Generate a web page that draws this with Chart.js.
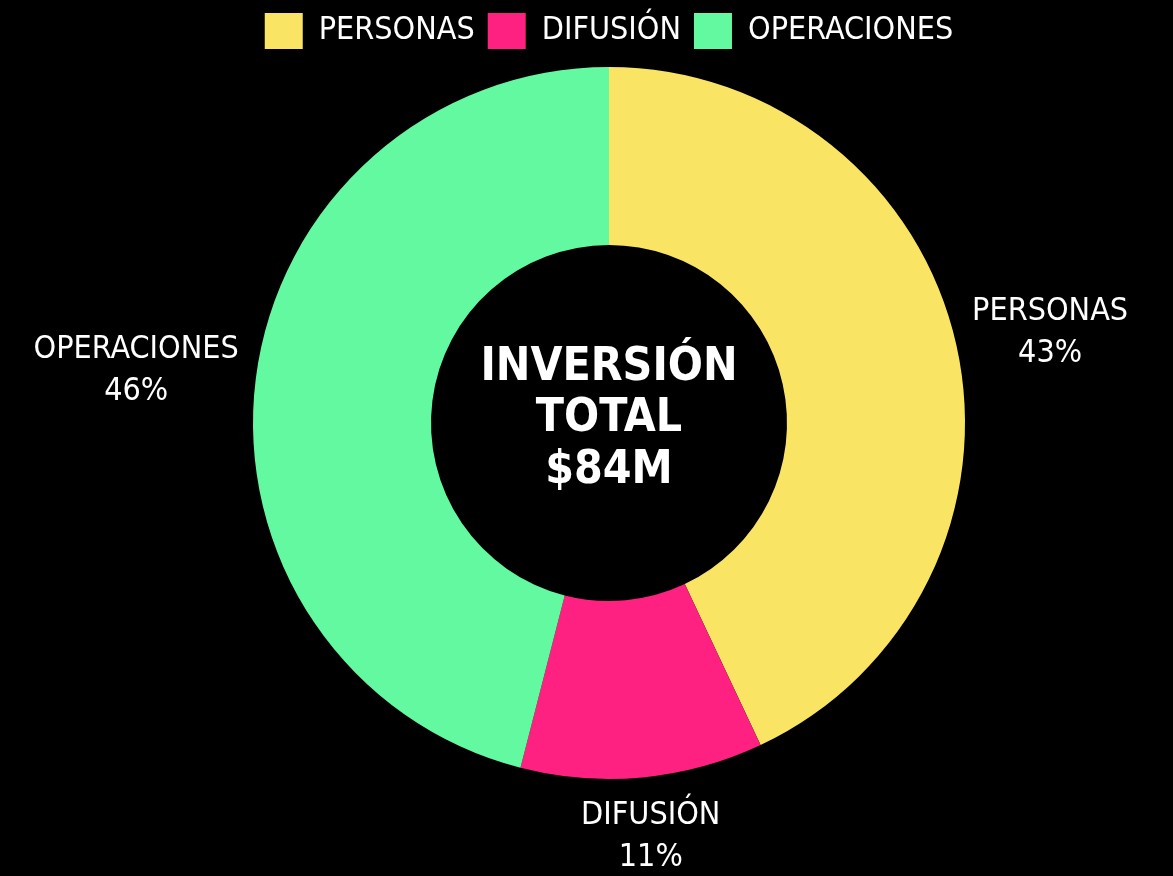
<!DOCTYPE html>
<html>
<head>
<meta charset="utf-8">
<script src="https://cdn.jsdelivr.net/npm/chart.js@4.4.0/dist/chart.umd.min.js"></script>
<style>
    html, body { margin: 0; padding: 0; background: #000; }
    #wrap { width: 1173px; height: 876px; }
</style>
</head>
<body>
<div id="wrap"><canvas id="inversion"></canvas></div>
<script>
const categorias = ['PERSONAS', 'DIFUSIÓN', 'OPERACIONES'];
const porcentajes = [43, 11, 46];
const colores = ['#fae463', '#fe2181', '#62f9a0'];
const textoCentro = ['INVERSIÓN', 'TOTAL', '$84M'];

const fuente = '"Liberation Sans Narrow", "DejaVu Sans Condensed", sans-serif';

// etiquetas fuera del anillo
const etiquetas = {
    id: 'etiquetas',
    afterDatasetsDraw(chart) {
        const ctx = chart.ctx;
        const meta = chart.getDatasetMeta(0);
        ctx.save();
        ctx.font = '32px ' + fuente;
        ctx.fillStyle = '#fff';
        ctx.textAlign = 'center';
        ctx.textBaseline = 'middle';
        meta.data.forEach((arc, i) => {
            const p = arc.getProps(['x', 'y', 'startAngle', 'endAngle', 'outerRadius'], true);
            const ang = (p.startAngle + p.endAngle) / 2;
            const dx = Math.cos(ang), dy = Math.sin(ang);
            const lineas = [categorias[i], porcentajes[i] + '%'];
            const w = Math.max(...lineas.map(t => ctx.measureText(t).width));
            const h = 84;
            const r = p.outerRadius + 18;
            const cx = p.x + dx * r + dx * w / 2;
            const cy = p.y + dy * r + dy * h / 2;
            ctx.fillText(lineas[0], cx, cy - 21);
            ctx.fillText(lineas[1], cx, cy + 21);
        });
        // texto central
        const a = meta.data[0];
        ctx.font = 'bold 46px ' + fuente;
        textoCentro.forEach((t, k) => {
            ctx.fillText(t, a.x, a.y - 55 + k * 51.5);
        });
        ctx.restore();
    }
};

// espacio extra bajo la leyenda
const margenLeyenda = {
    id: 'margenLeyenda',
    beforeInit(chart) {
        const fitOriginal = chart.legend.fit;
        chart.legend.fit = function () {
            fitOriginal.bind(chart.legend)();
            this.height += 8;
        };
    }
};

const ctx = document.getElementById('inversion');

let grafico = new Chart(ctx, {
    type: 'doughnut',
    data: {
        labels: categorias,
        datasets: [{
            data: porcentajes,
            backgroundColor: colores,
            borderWidth: 0,
        }]
    },
    options: {
        responsive: true,
        maintainAspectRatio: false,
        animation: false,
        cutout: '50%',
        layout: {
            padding: { left: 45, right: 0, top: 0, bottom: 97 }
        },
        plugins: {
            legend: {
                position: 'top',
                labels: {
                    color: '#fff',
                    boxWidth: 38,
                    boxHeight: 36,
                    padding: 13,
                    font: { family: fuente, size: 32 }
                }
            },
            tooltip: { enabled: false }
        }
    },
    plugins: [etiquetas, margenLeyenda]
});
</script>
</body>
</html>
